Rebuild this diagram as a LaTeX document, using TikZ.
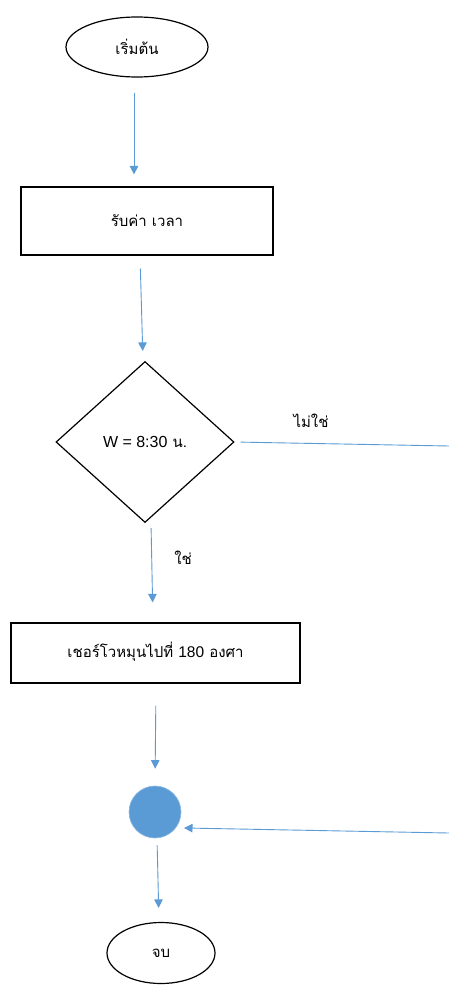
\documentclass[tikz,border=0pt]{standalone}
\usepackage{fontspec}
\setmainfont[Script=Thai]{Loma}
\newfontfamily\latinfont{Liberation Sans}
\usetikzlibrary{shapes.geometric,arrows.meta}
\definecolor{flowblue}{HTML}{5B9BD5}
\tikzset{
  txt/.style={font=\fontsize{15}{17}\selectfont},
  box/.style={txt, draw=black, line width=1.2pt, rectangle, inner sep=0pt},
  term/.style={txt, draw=black, line width=1.2pt, ellipse, inner sep=0pt},
  dec/.style={txt, draw=black, line width=1.2pt, diamond, inner sep=0pt},
  conn/.style={draw=flowblue, line width=0.9pt},
  arr/.style={conn, -{Triangle[width=8.5pt,length=8.5pt]}, flowblue},
  lbl/.style={txt, inner sep=0pt},
}
\begin{document}
\begin{tikzpicture}[x=1pt,y=-1pt]
\useasboundingbox[fill=white] (0,0) rectangle (449,985);
\node[term, minimum width=142pt, minimum height=60pt] (start) at (137,47) {เริ่มต้น};
\node[box, minimum width=252pt, minimum height=68pt] (get) at (147,221) {รับค่า เวลา};
\node[dec, minimum width=178pt, minimum height=161pt] (dia) at (145,442) {{\latinfont\fontsize{16}{18}\selectfont W = 8:30} น.};
\node[box, minimum width=289pt, minimum height=60pt, text depth=7pt] (servo) at (155.5,653) {เชอร์โวหมุนไปที่ {\latinfont\fontsize{15.5}{17}\selectfont 180} องศา};
\node[circle, fill=flowblue, draw=flowblue!70!white, line width=0.6pt, minimum size=52pt, inner sep=0pt] (join) at (155,812) {};
\node[term, minimum width=108pt, minimum height=61pt] (stop) at (161,953) {จบ};
\node[lbl] (nolbl) at (311,421) {ไม่ใช่};
\node[lbl] (yeslbl) at (183,558) {ใช่};
\coordinate (noA) at (449,446);
\coordinate (noB) at (449,833);

\draw[arr, shorten <=15pt, shorten >=12pt] ([xshift=-3pt]start.south) -- ([xshift=-13pt]get.north);
\draw[arr, shorten <=13pt, shorten >=10pt] ([xshift=-7pt]get.south) -- ([xshift=-2pt]dia.north);
\draw[conn, shorten <=6pt] (dia.east) -- (noA);
\draw[arr, shorten <=5pt, shorten >=20pt] ([xshift=6pt]dia.south) -- ([xshift=-2.5pt]servo.north);
\draw[arr, shorten <=22pt, shorten >=17pt] ([xshift=0.5pt]servo.south) -- (join.north);
\draw[arr, shorten >=8pt] (noB) -- (join.-37);
\draw[arr, shorten <=7pt, shorten >=14pt] ([xshift=2pt]join.south) -- ([xshift=-2pt]stop.north);
\end{tikzpicture}
\end{document}
